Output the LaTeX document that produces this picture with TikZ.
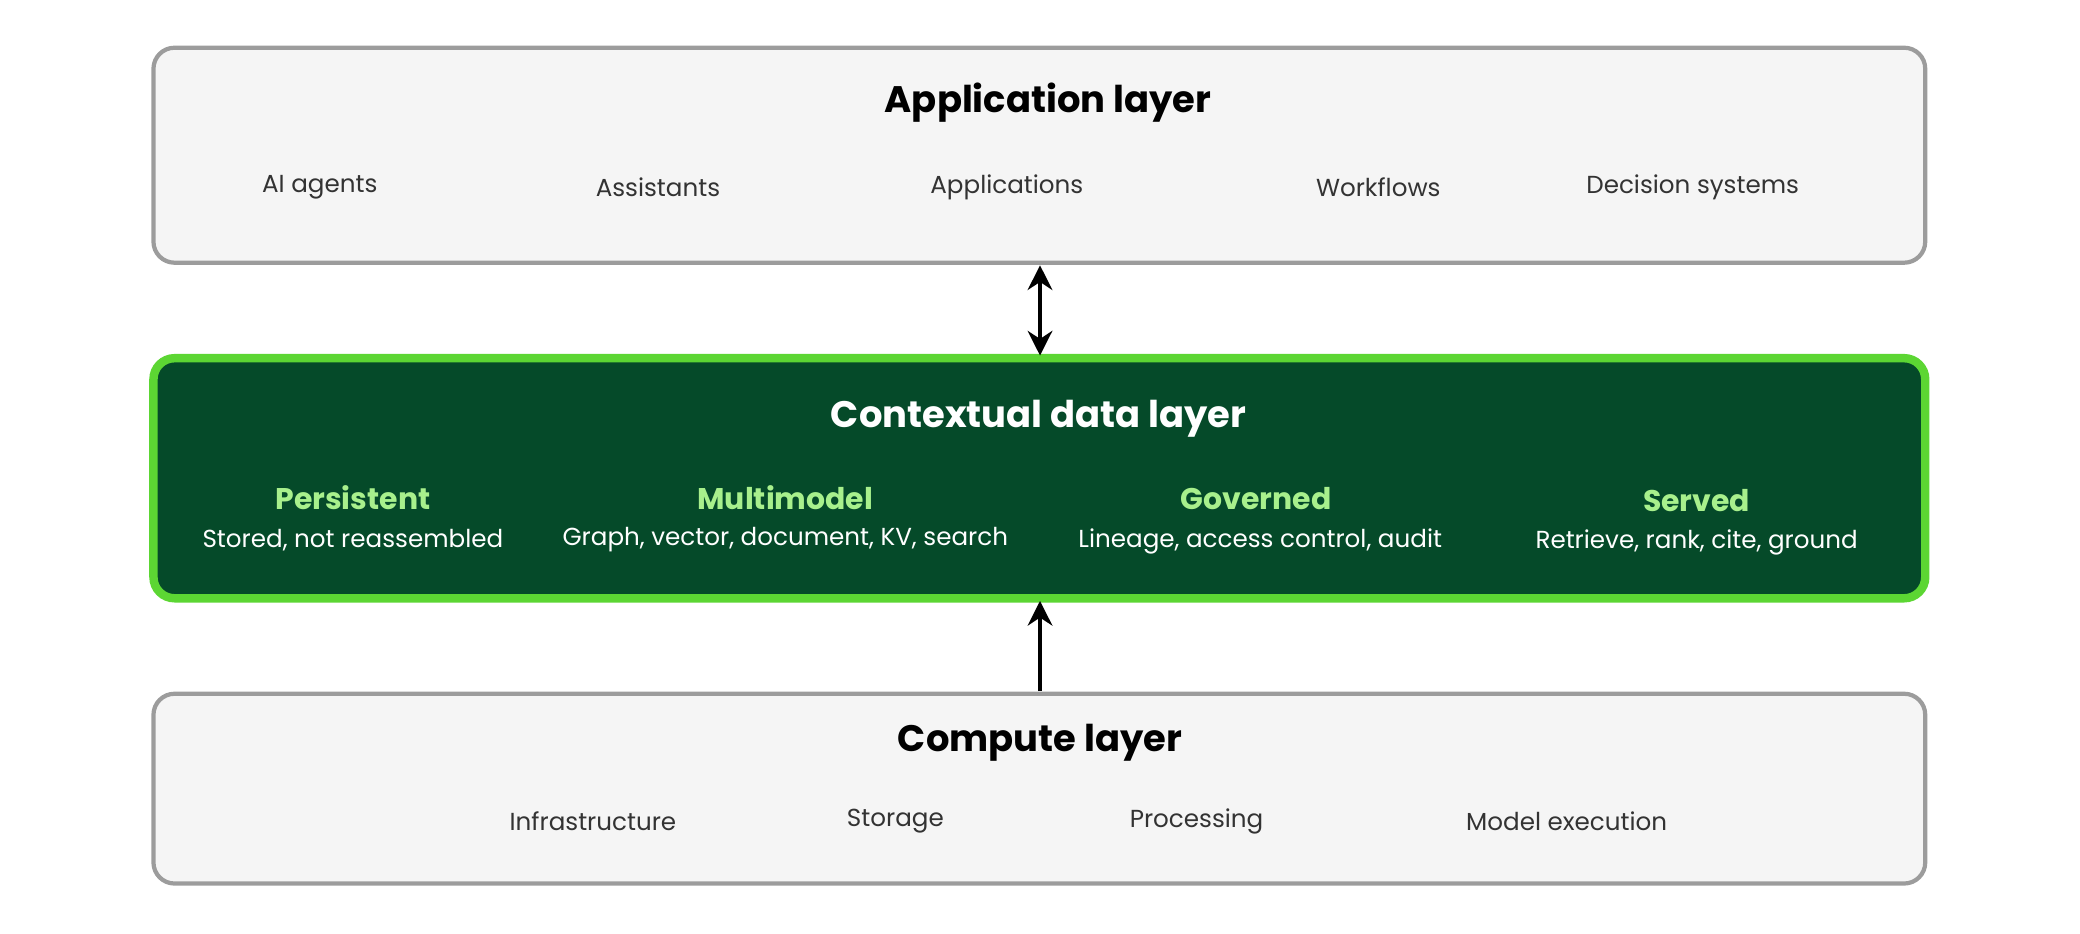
\documentclass[tikz,border=0pt]{standalone}
\usepackage{fontspec}
\setmainfont{Poppins}
\usetikzlibrary{arrows.meta}
\definecolor{boxfill}{HTML}{F5F5F5}
\definecolor{boxline}{HTML}{9C9C9C}
\definecolor{ctxfill}{HTML}{054A29}
\definecolor{ctxline}{HTML}{5CD633}
\definecolor{ctxhead}{HTML}{A8F08C}
\tikzset{
    layer/.style={draw=boxline,fill=boxfill,line width=1.2pt,rounded corners=6pt,minimum width=17.71cm,inner sep=0pt},
    ctx/.style={draw=ctxline,fill=ctxfill,line width=2.4pt,rounded corners=6pt,minimum width=17.71cm,inner sep=0pt},
    title/.style={font=\fontsize{10.5}{12}\selectfont\bfseries},
    item/.style={font=\fontsize{7}{8}\selectfont,text=black!80},
    head/.style={font=\fontsize{8.5}{10}\selectfont\bfseries,text=ctxhead},
    sub/.style={font=\fontsize{7}{8}\selectfont,text=white},
    link/.style={line width=1.1pt,-{Stealth[length=7pt,width=7pt]}},
}
\begin{document}
\begin{tikzpicture}[x=0.013265cm,y=-0.013265cm]
    \useasboundingbox (0,0) rectangle (1568,704);

    %% boxes
    \node[layer,minimum height=2.149cm] (app) at (783.5,117) {};
    \node[ctx,minimum height=2.40cm] (ctx) at (783.5,360.5) {};
    \node[layer,minimum height=1.897cm] (comp) at (783.5,594.5) {};

    %% application layer
    \node[title] (apptitle) at (790,77) {Application layer};
    \node[item] (agents) at (241,141) {AI agents};
    \node[item] (assist) at (496,141) {Assistants};
    \node[item] (apps) at (759,141) {Applications};
    \node[item] (flows) at (1039,141) {Workflows};
    \node[item] (decide) at (1276,141) {Decision systems};

    %% contextual data layer
    \node[title,text=white] (ctxtitle) at (783,316) {Contextual data layer};
    \node[head] (persist) at (266,375) {Persistent};
    \node[sub] (persistsub) at (266,407) {Stored, not reassembled};
    \node[head] (multi) at (592,375) {Multimodel};
    \node[sub] (multisub) at (592,407) {Graph, vector, document, KV, search};
    \node[head] (govern) at (947,376) {Governed};
    \node[sub] (governsub) at (950,408) {Lineage, access control, audit};
    \node[head] (served) at (1279,377) {Served};
    \node[sub] (servedsub) at (1279,409) {Retrieve, rank, cite, ground};

    %% compute layer
    \node[title] (comptitle) at (784,560) {Compute layer};
    \node[item] (infra) at (447,619) {Infrastructure};
    \node[item] (store) at (675,619) {Storage};
    \node[item] (proc) at (902,619) {Processing};
    \node[item] (model) at (1181,619) {Model execution};

    %% arrows
    \coordinate (a1) at (784,200);
    \coordinate (a2) at (784,268);
    \coordinate (b1) at (784,521);
    \coordinate (b2) at (784,453);
    \draw[link,{Stealth[length=7pt,width=7pt]}-{Stealth[length=7pt,width=7pt]}] (a1) -- (a2);
    \draw[link] (b1) -- (b2);
\end{tikzpicture}
\end{document}
